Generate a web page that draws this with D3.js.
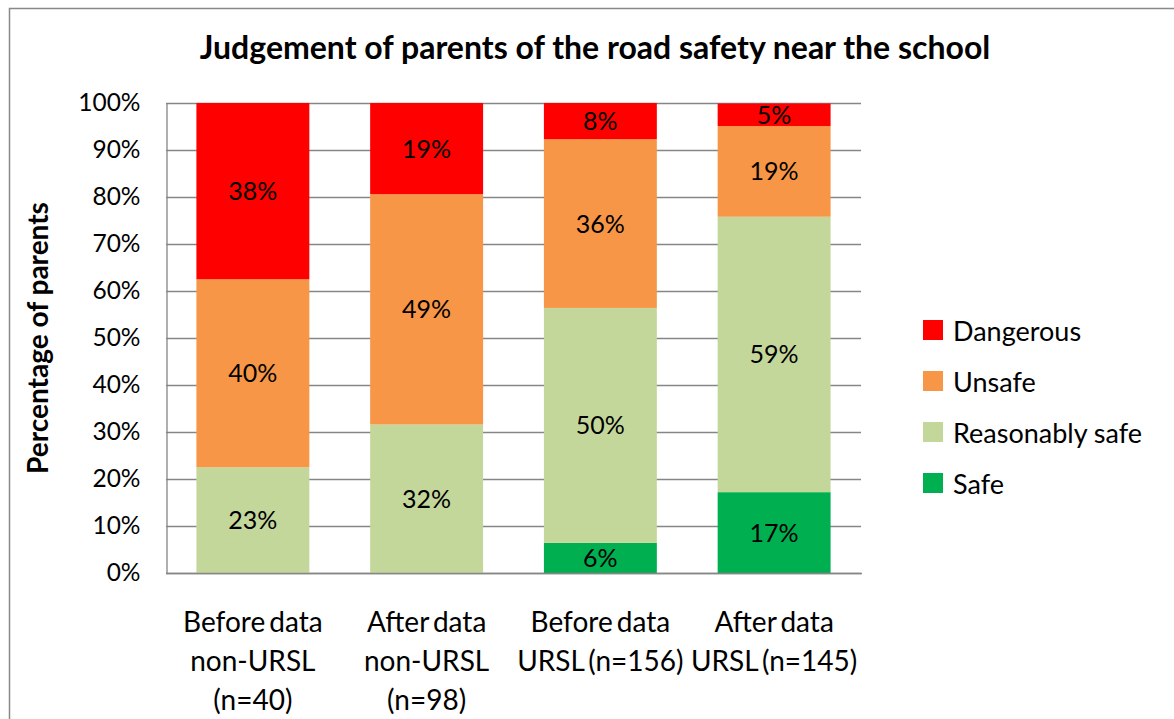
<!DOCTYPE html>
<html>
<head>
<meta charset="utf-8">
<script src="https://cdn.jsdelivr.net/npm/d3@7"></script>
<style>
  body { margin: 0; background: #fff; }
  text { font-family: Lato, "Open Sans", sans-serif; fill: #000; }
</style>
</head>
<body>
<svg id="chart"></svg>
<script>
// categories (label lines) and series, in percent of parents
var categories = ["Before data non-URSL", "After data non-URSL", "Before data URSL", "After data URSL"];
var catLines = [
    ["Before data", "non-URSL", "(n=40)"],
    ["After data", "non-URSL", "(n=98)"],
    ["Before data", "URSL (n=156)"],
    ["After data", "URSL (n=145)"]
];
var seriesNames = ["Safe", "Reasonably safe", "Unsafe", "Dangerous"];
var safe = [0, 0, 6.4, 17.2];
var reasonablySafe = [22.5, 31.6, 50.0, 58.6];
var unsafe = [40.0, 49.0, 35.9, 19.3];
var dangerous = [37.5, 19.4, 7.7, 4.8];
var yTicks = [0, 10, 20, 30, 40, 50, 60, 70, 80, 90, 100];
var colors = ["#00b050", "#c4d79b", "#f79646", "#ff0000"];

width = 1174;
height = 719;
margin = {left: 166, right: 313, top: 103, bottom: 146};

var svg = d3.select("#chart")
    .attr("width", width)
    .attr("height", height);

// outer chart border
svg.append("rect")
    .attr("x", 9.5).attr("y", 8.5)
    .attr("width", width + 20).attr("height", height + 20)
    .attr("style", "fill:none; stroke:#898989; stroke-width:1.5");

var table = categories.map(function(c, i) {
    return {cat: c, "Safe": safe[i], "Reasonably safe": reasonablySafe[i],
            "Unsafe": unsafe[i], "Dangerous": dangerous[i]};
});
var stack = d3.stack().keys(seriesNames)(table);

x = d3.scaleBand()
    .domain(categories)
    .range([margin.left, width - margin.right])
    .paddingInner(0.35)
    .paddingOuter(0.175);
y = d3.scaleLinear()
    .domain([0, 100])
    .range([height - margin.bottom, margin.top]);

// gridlines
svg.append("g")
    .selectAll("line")
    .data(yTicks)
    .enter().append("line")
        .attr("x1", margin.left)
        .attr("x2", width - margin.right)
        .attr("y1", function(d) { return y(d) + 0.5; })
        .attr("y2", function(d) { return y(d) + 0.5; })
        .attr("style", "stroke:#868686; stroke-width:1.3");

// y axis
var yAxis = svg.append("g")
    .attr("transform", "translate(" + (margin.left + 0.5) + ",0)")
    .call(d3.axisLeft(y).tickValues(yTicks).tickSize(0).tickPadding(26)
        .tickFormat(function(d) { return d + "%"; }));
yAxis.select(".domain").attr("style", "stroke:#868686; stroke-width:1.3");
yAxis.selectAll("text")
    .attr("style", "font-size:24.5px; font-family:Lato, sans-serif")
    .attr("fill", "#000");

// bars
var layers = svg.append("g")
    .selectAll("g")
    .data(stack)
    .enter().append("g")
        .attr("fill", function(d, i) { return colors[i]; });
layers.selectAll("rect")
    .data(function(d) { return d; })
    .enter().append("rect")
        .attr("x", function(d) { return x(d.data.cat); })
        .attr("width", x.bandwidth())
        .attr("y", function(d) { return y(d[1]); })
        .attr("height", function(d) { return y(d[0]) - y(d[1]); });

// x axis line
svg.append("line")
    .attr("x1", margin.left)
    .attr("x2", width - margin.right + 1)
    .attr("y1", y(0) + 0.5)
    .attr("y2", y(0) + 0.5)
    .attr("style", "stroke:#868686; stroke-width:1.3");

// data labels
layers.selectAll("text")
    .data(function(d) { return d.filter(function(e) { return e[1] - e[0] > 0; }); })
    .enter().append("text")
        .attr("x", function(d) { return x(d.data.cat) + x.bandwidth() / 2; })
        .attr("y", function(d) { return (y(d[0]) + y(d[1])) / 2; })
        .attr("dy", ".36em")
        .attr("text-anchor", "middle")
        .attr("style", "font-size:25px; fill:#000")
        .text(function(d) { return Math.round(d[1] - d[0]) + "%"; });

// category labels
var cl = svg.append("g")
    .selectAll("text")
    .data(categories)
    .enter().append("text")
        .attr("x", function(d) { return x(d) + x.bandwidth() / 2; })
        .attr("y", 632)
        .attr("text-anchor", "middle")
        .attr("style", "font-size:28px; word-spacing:-3px");
cl.selectAll("tspan")
    .data(function(d, i) { return catLines[i]; })
    .enter().append("tspan")
        .attr("x", function() { return this.parentNode.getAttribute("x"); })
        .attr("dy", function(d, i) { return i == 0 ? 0 : 39; })
        .text(function(d) { return d; });

// title
svg.append("text")
    .attr("x", 595)
    .attr("y", 59)
    .attr("text-anchor", "middle")
    .attr("style", "font-size:32px; font-weight:bold")
    .text("Judgement of parents of the road safety near the school");

// y axis title
svg.append("text")
    .attr("transform", "translate(48," + ((y(0) + y(100)) / 2) + ") rotate(-90)")
    .attr("text-anchor", "middle")
    .attr("style", "font-size:28px; font-weight:bold")
    .text("Percentage of parents");

// legend
var legend = svg.append("g")
    .selectAll("g")
    .data(seriesNames.slice().reverse())
    .enter().append("g")
        .attr("transform", function(d, i) { return "translate(923," + (320 + i * 51) + ")"; });
legend.append("rect")
    .attr("width", 20)
    .attr("height", 20)
    .attr("fill", function(d) { return colors[seriesNames.indexOf(d)]; });
legend.append("text")
    .attr("x", 30)
    .attr("y", 11)
    .attr("dy", ".36em")
    .attr("style", "font-size:27px")
    .text(function(d) { return d; });
</script>
</body>
</html>
